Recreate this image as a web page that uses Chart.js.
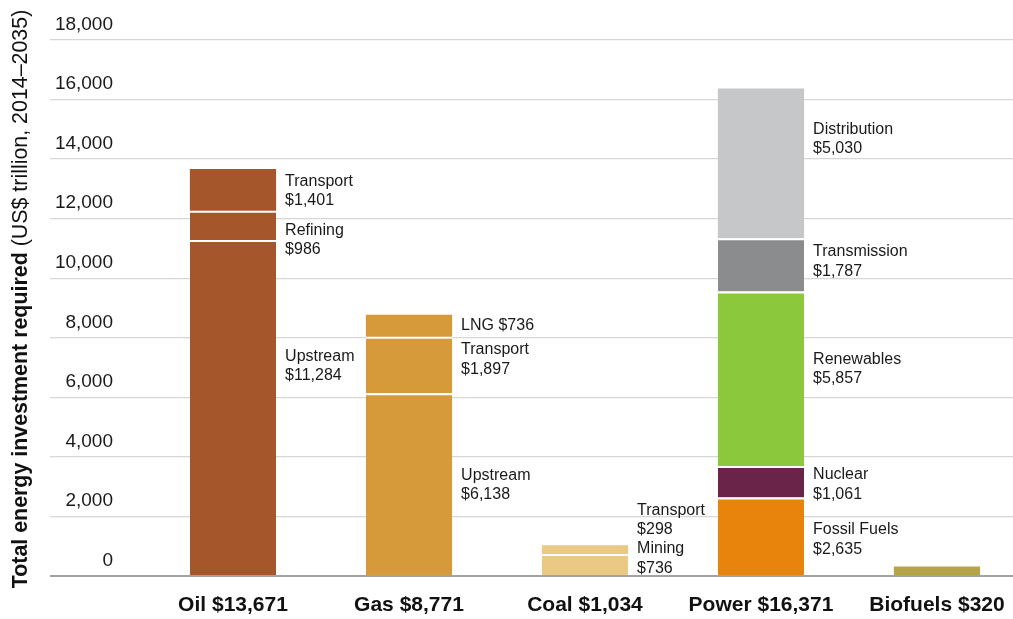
<!DOCTYPE html>
<html>
<head>
<meta charset="utf-8">
<script src="https://cdn.jsdelivr.net/npm/chart.js@4"></script>
<style>
  html, body { margin: 0; padding: 0; background: #fff; }
  #wrap { width: 1013px; height: 619px; position: relative; }
</style>
</head>
<body>
<div id="wrap"><canvas id="chart"></canvas></div>
<script>
// Investment by sector, bottom segment first
const categories = ['Oil $13,671', 'Gas $8,771', 'Coal $1,034', 'Power $16,371', 'Biofuels $320'];

const oilParts = ['Upstream', 'Refining', 'Transport'];
const oilValues = [11284, 986, 1401];
const gasParts = ['Upstream', 'Transport', 'LNG'];
const gasValues = [6138, 1897, 736];
const coalParts = ['Mining', 'Transport'];
const coalValues = [736, 298];
const powerParts = ['Fossil Fuels', 'Nuclear', 'Renewables', 'Transmission', 'Distribution'];
const powerValues = [2635, 1061, 5857, 1787, 5030];
const biofuelParts = ['Biofuels'];
const biofuelValues = [320];

const yTicks = [0, 2000, 4000, 6000, 8000, 10000, 12000, 14000, 16000, 18000];

// where the first text line of each segment note sits (in data units)
const oilLabelAt = [7620, 11850, 13500];
const gasLabelAt = [3620, 7825, 8664];
const coalLabelAt = [1142, 2451];
const powerLabelAt = [1780, 3627, 7520, 11116, 15246];

const FONT = "'Liberation Sans', Arial, Helvetica, sans-serif";

const parts = [oilParts, gasParts, coalParts, powerParts, biofuelParts];
const values = [oilValues, gasValues, coalValues, powerValues, biofuelValues];
const labelAt = [oilLabelAt, gasLabelAt, coalLabelAt, powerLabelAt, null];
const colors = [
    ['#A5562B', '#A5562B', '#A5562B'],
    ['#D69A3B', '#D69A3B', '#D69A3B'],
    ['#EBC985', '#EBC985'],
    ['#E8830B', '#6A2349', '#8CC83C', '#8B8C8E', '#C6C7C9'],
    ['#B5A546']
];
const singleLine = ['LNG'];

const fmt = v => v.toLocaleString('en-US');
const levels = Math.max(...values.map(v => v.length));

const datasets = [];
for (let k = 0; k < levels; k++) {
    datasets.push({
        label: 'level ' + (k + 1),
        data: categories.map((c, i) => ({ x: i, y: values[i][k] !== undefined ? values[i][k] : null })),
        backgroundColor: categories.map((c, i) => colors[i][k] || '#fff'),
        borderColor: '#ffffff',
        borderSkipped: false,
        borderWidth: ctx => {
            const i = ctx.dataIndex;
            const top = k === values[i].length - 1;
            return { top: top ? 0 : 2, right: 0, bottom: 0, left: 0 };
        },
        barPercentage: 0.49,
        categoryPercentage: 1,
        stack: 'all'
    });
}

const segmentNotes = {
    id: 'segmentNotes',
    afterDatasetsDraw(chart) {
        const ctx = chart.ctx;
        const y = chart.scales.y;
        ctx.save();
        ctx.font = '16px ' + FONT;
        ctx.fillStyle = '#1a1a1a';
        ctx.textAlign = 'left';
        ctx.textBaseline = 'alphabetic';
        for (let k = 0; k < levels; k++) {
            const meta = chart.getDatasetMeta(k);
            meta.data.forEach((bar, i) => {
                if (!labelAt[i] || values[i][k] === undefined) return;
                const name = parts[i][k];
                const amount = '$' + fmt(values[i][k]);
                const lines = singleLine.includes(name) ? [name + ' ' + amount] : [name, amount];
                const x = bar.x + bar.width / 2 + 9;
                const top = y.getPixelForValue(labelAt[i][k]) + 11.5;
                lines.forEach((t, j) => ctx.fillText(t, x, top + j * 19.5));
            });
        }
        ctx.restore();
    }
};

const yTitle = {
    id: 'yTitle',
    afterDraw(chart) {
        const ctx = chart.ctx;
        const bold = 'Total energy investment required ';
        const normal = '(US$ trillion, 2014\u20132035)';
        const size = 21.4;
        ctx.save();
        ctx.translate(21, 299);
        ctx.rotate(-Math.PI / 2);
        ctx.fillStyle = '#111';
        ctx.textBaseline = 'middle';
        ctx.textAlign = 'left';
        ctx.font = 'bold ' + size + 'px ' + FONT;
        const wb = ctx.measureText(bold).width;
        ctx.font = size + 'px ' + FONT;
        const wn = ctx.measureText(normal).width;
        let x = -(wb + wn) / 2;
        ctx.font = 'bold ' + size + 'px ' + FONT;
        ctx.fillText(bold, x, 0);
        ctx.font = size + 'px ' + FONT;
        ctx.fillText(normal, x + wb, 0);
        ctx.restore();
    }
};

new Chart(document.getElementById('chart'), {
    type: 'bar',
    data: { datasets },
    plugins: [segmentNotes, yTitle],
    options: {
        responsive: true,
        maintainAspectRatio: false,
        animation: false,
        layout: { padding: { top: 40, right: 0, bottom: 0, left: 0 } },
        plugins: { legend: { display: false }, tooltip: { enabled: false } },
        scales: {
            x: {
                type: 'linear',
                stacked: true,
                offset: false,
                min: -0.642,
                max: 4.432,
                grid: { display: false, drawTicks: false, offset: false },
                border: { display: false },
                afterFit: s => { s.height = 43; s.paddingLeft = 0; s.paddingRight = 0; },
                ticks: {
                    stepSize: 1,
                    includeBounds: false,
                    autoSkip: false,
                    maxRotation: 0,
                    padding: 17,
                    color: '#111',
                    font: { family: FONT, size: 21, weight: 'bold' },
                    callback: v => Number.isInteger(v) ? categories[v] : ''
                }
            },
            y: {
                stacked: true,
                min: 0,
                max: 18000,
                afterFit: s => { s.width = 120; },
                afterBuildTicks: s => { s.ticks = yTicks.map(v => ({ value: v })); },
                border: { display: false },
                grid: {
                    color: c => c.tick && c.tick.value === 0 ? '#a3a3a3' : '#d7d7d7',
                    lineWidth: c => c.tick && c.tick.value === 0 ? 2 : 1.3,
                    drawTicks: true,
                    tickLength: 70
                },
                ticks: {
                    padding: -63,
                    labelOffset: -15.5,
                    color: '#1a1a1a',
                    font: { family: FONT, size: 19 },
                    callback: v => fmt(v)
                }
            }
        }
    }
});
</script>
</body>
</html>
